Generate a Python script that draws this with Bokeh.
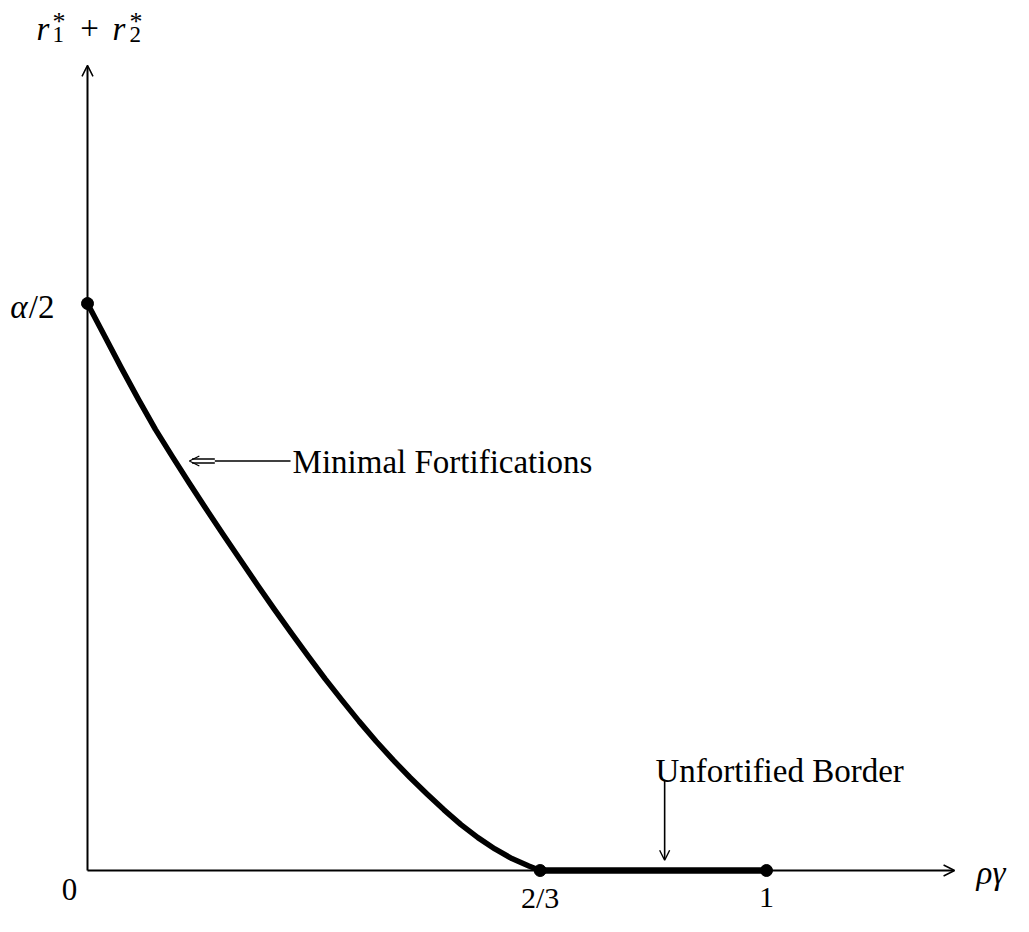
from bokeh.plotting import figure
from bokeh.models import Label, Arrow, OpenHead, Range1d
from bokeh.embed import file_html
from bokeh.resources import INLINE

# ---- data (y in units of alpha/2) ----
rho_gamma = [0.0, 0.025, 0.05, 0.075, 0.10, 0.125, 0.15, 0.175, 0.20, 0.225,
             0.25, 0.275, 0.30, 0.325, 0.35, 0.375, 0.40, 0.425, 0.45, 0.475,
             0.50, 0.525, 0.55, 0.575, 0.60, 0.625, 0.65, 2 / 3]
r_sum = [1.0, 0.943, 0.886, 0.831, 0.778, 0.730, 0.683, 0.637, 0.592, 0.548,
         0.504, 0.461, 0.419, 0.378, 0.338, 0.300, 0.263, 0.228, 0.195, 0.164,
         0.135, 0.107, 0.081, 0.058, 0.038, 0.021, 0.008, 0.0]

flat_x = [2 / 3, 1.0]
flat_y = [0.0, 0.0]

dot_x = [0.0, 2 / 3, 1.0]
dot_y = [1.0, 0.0, 0.0]

x_ticks = [0.0, 2 / 3, 1.0]
x_tick_labels = ["0", "2/3", "1"]
y_tick_value = 1.0
y_tick_label = "/2"

x_axis_end = 1.277
y_axis_end = 1.42

# annotations
minimal_text = "Minimal Fortifications"
minimal_pos = (0.302, 0.7222)
minimal_tip = 0.150
unfort_text = "Unfortified Border"
unfort_pos = (0.8365, 0.176)
unfort_arrow = (0.850, 0.160, 0.018)

FONT = "Liberation Serif"
FS = "33px"

W, H = 1010, 916
x0, xs = 87, 679.0
y0, ys = 870, 567.0

p = figure(width=W, height=H, output_backend="svg", toolbar_location=None,
           x_range=Range1d(-x0 / xs, (W - x0) / xs),
           y_range=Range1d(-(H - y0) / ys, y0 / ys),
           min_border=0)
p.axis.visible = False
p.grid.visible = False
p.outline_line_color = None
p.background_fill_color = "white"
p.border_fill_color = "white"

# axes with arrows
p.add_layout(Arrow(end=OpenHead(size=11, line_width=1.5, line_color="black"),
                   x_start=0, y_start=0, x_end=x_axis_end, y_end=0,
                   line_width=2, line_color="black"))
p.add_layout(Arrow(end=OpenHead(size=11, line_width=1.5, line_color="black"),
                   x_start=0, y_start=0, x_end=0, y_end=y_axis_end,
                   line_width=2, line_color="black"))

# curve and flat segment
p.line(rho_gamma, r_sum, line_width=5.5, line_color="black",
       line_cap="round", line_join="round")
p.line(flat_x, flat_y, line_width=6.5, line_color="black")
p.scatter(dot_x, dot_y, size=12, color="black")


def lab(x, y, text, size=FS, style="normal", align="left", baseline="alphabetic",
        xo=0, yo=0):
    p.add_layout(Label(x=x, y=y, text=text, text_font=FONT, text_font_size=size,
                       text_font_style=style, text_align=align,
                       text_baseline=baseline, text_color="black",
                       x_offset=xo, y_offset=yo))


# tick labels
lab(x_ticks[0], 0, x_tick_labels[0], size="31px", align="center", baseline="middle",
    xo=-18, yo=-19)
for xv, t in zip(x_ticks[1:], x_tick_labels[1:]):
    lab(xv, 0, t, size="30px", align="center", baseline="middle", yo=-27)

# alpha/2
lab(0, y_tick_value, y_tick_label, align="right", baseline="middle", xo=-33, yo=-3)
lab(0, y_tick_value, "α", style="italic", align="right", baseline="middle", xo=-60, yo=-3)

# x label rho gamma
lab(x_axis_end, 0, "ργ", style="italic", align="left", baseline="alphabetic", xo=22, yo=-2)

# y label r1* + r2*
yb = y_axis_end
lab(0, yb, "r", style="italic", align="left", xo=-51, yo=36)
lab(0, yb, "1", size="23px", align="left", xo=-35, yo=31)
lab(0, yb, "*", size="26px", align="left", xo=-35, yo=44)
lab(0, yb, "+", align="center", xo=2, yo=37)
lab(0, yb, "r", style="italic", align="left", xo=25, yo=36)
lab(0, yb, "2", size="23px", align="left", xo=42, yo=31)
lab(0, yb, "*", size="26px", align="left", xo=42, yo=44)

# Minimal Fortifications annotation
mx, my = minimal_pos
lab(mx, my, minimal_text, align="left", baseline="middle", yo=-1)
d = 2.0 / ys
p.segment(x0=[0.1875, minimal_tip + 0.004, minimal_tip + 0.004],
          y0=[my, my + d, my - d],
          x1=[mx - 0.003, 0.1875, 0.1875],
          y1=[my, my + d, my - d],
          line_width=1.4, line_color="black")
p.add_layout(Arrow(end=OpenHead(size=10, line_width=1.3, line_color="black"),
                   x_start=minimal_tip + 0.01, y_start=my, x_end=minimal_tip, y_end=my,
                   line_width=0, line_alpha=0))

# Unfortified Border annotation
ux, uy = unfort_pos
lab(ux, uy, unfort_text, align="left", baseline="alphabetic")
ax, ay0, ay1 = unfort_arrow
p.add_layout(Arrow(end=OpenHead(size=10, line_width=1.4, line_color="black"),
                   x_start=ax, y_start=ay0, x_end=ax, y_end=ay1,
                   line_width=1.6, line_color="black"))

open("out.html", "w").write(file_html(p, INLINE))
